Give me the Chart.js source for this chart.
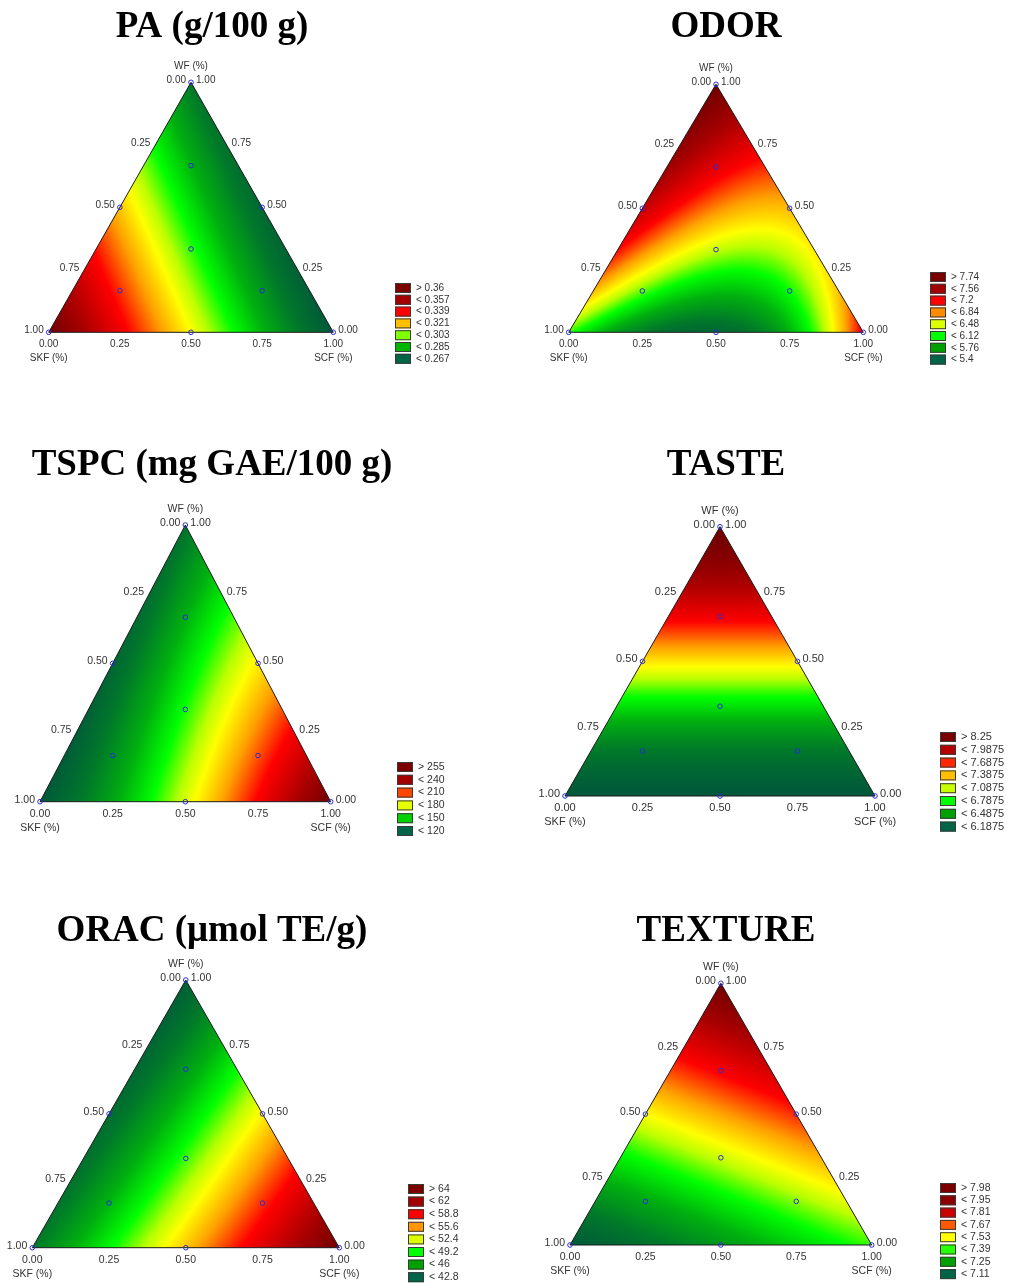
<!DOCTYPE html>
<html>
<head>
<meta charset="utf-8">
<script src="https://cdn.jsdelivr.net/npm/chart.js@4.4.1/dist/chart.umd.min.js"></script>
<style>
  body { margin: 0; background: #fff; }
  #page { position: relative; width: 1017px; height: 1283px; overflow: hidden; }
  #page canvas { position: absolute; }
</style>
</head>
<body>
<div id="page"></div>
<script>
// Mixture components: WF at the top, SKF bottom-left, SCF bottom-right
const axisNames = ["WF (%)", "SKF (%)", "SCF (%)"];
const tickValues = [0, 0.25, 0.5, 0.75, 1];
const tickLabels = ["0.00", "0.25", "0.50", "0.75", "1.00"];

// Design points (blue circles): vertices, edge midpoints, centroid, axial points
const designWF  = [1, 0, 0, 0.5, 0.5, 0,   1/3, 2/3, 1/6, 1/6];
const designSKF = [0, 1, 0, 0.5, 0,   0.5, 1/3, 1/6, 2/3, 1/6];
const designSCF = [0, 0, 1, 0,   0.5, 0.5, 1/3, 1/6, 1/6, 2/3];

// Response on a {3,3} lattice (counts in thirds: WF, SKF, SCF)
const nodeWF  = [3, 0, 0, 2, 1, 2, 1, 0, 0, 1];
const nodeSKF = [0, 3, 0, 1, 2, 0, 0, 2, 1, 1];
const nodeSCF = [0, 0, 3, 0, 0, 1, 2, 1, 2, 1];

const paValues      = [0.264, 0.375, 0.249, 0.301, 0.338, 0.259, 0.254, 0.333, 0.291, 0.296];
const odorValues    = [7.92, 6.13, 7.20, 7.63, 7.11, 7.03, 6.54, 5.27, 5.47, 6.34];
const tspcValues    = [112, 95, 265, 107, 100, 160, 207, 146, 204, 156];
const tasteValues   = [8.35, 5.95, 5.95, 7.73, 6.69, 7.73, 6.69, 5.95, 5.95, 6.69];
const oracValues    = [40.1, 42.7, 65.2, 41.0, 41.8, 48.5, 56.8, 50.2, 57.7, 49.3];
const textureValues = [8.00, 6.97, 7.36, 7.66, 7.31, 7.79, 7.57, 7.10, 7.23, 7.44];

// Colour range (low -> high) of each response
const paRange      = [0.249, 0.375];
const odorRange    = [5.04, 7.92];
const tspcRange    = [95, 265];
const tasteRange   = [5.95, 8.35];
const oracRange    = [39.6, 65.2];
const textureRange = [6.97, 8.00];

// Legend labels, top to bottom
const paLegend      = ["> 0.36", "< 0.357", "< 0.339", "< 0.321", "< 0.303", "< 0.285", "< 0.267"];
const odorLegend    = ["> 7.74", "< 7.56", "< 7.2", "< 6.84", "< 6.48", "< 6.12", "< 5.76", "< 5.4"];
const tspcLegend    = ["> 255", "< 240", "< 210", "< 180", "< 150", "< 120"];
const tasteLegend   = ["> 8.25", "< 7.9875", "< 7.6875", "< 7.3875", "< 7.0875", "< 6.7875", "< 6.4875", "< 6.1875"];
const oracLegend    = ["> 64", "< 62", "< 58.8", "< 55.6", "< 52.4", "< 49.2", "< 46", "< 42.8"];
const textureLegend = ["> 7.98", "< 7.95", "< 7.81", "< 7.67", "< 7.53", "< 7.39", "< 7.25", "< 7.11"];

// Styles
const colorStops = [
  [0.00, [0, 88, 58]],
  [0.12, [0, 120, 42]],
  [0.24, [0, 175, 15]],
  [0.35, [0, 255, 0]],
  [0.44, [185, 255, 0]],
  [0.50, [255, 255, 0]],
  [0.60, [255, 160, 0]],
  [0.72, [255, 0, 0]],
  [0.87, [170, 0, 0]],
  [1.00, [112, 0, 0]]
];
const swatches = {
  pa:      ["#7B0000", "#A50000", "#FF0000", "#FFBE00", "#80FF00", "#00B400", "#006446"],
  odor:    ["#7B0000", "#A50000", "#FF0000", "#FF8C00", "#DCFF00", "#00FF00", "#00A000", "#006446"],
  tspc:    ["#7B0000", "#A50000", "#FF4600", "#E6FF00", "#00D200", "#006446"],
  taste:   ["#7B0000", "#B40000", "#FF2800", "#FFBE00", "#C8FF00", "#00FF00", "#00A000", "#006446"],
  orac:    ["#7B0000", "#A50000", "#FF0000", "#FF9600", "#DCFF00", "#00FF00", "#00A000", "#006446"],
  texture: ["#7B0000", "#8C0000", "#C80000", "#FF5A00", "#FFFF00", "#28FF00", "#00A000", "#006446"]
};

// Panel layout, page coordinates. tri = [left, right, top, bottom] of the triangle
const panels = [
  { title: "PA (g/100 g)", values: paValues, range: paRange, legend: paLegend, colors: swatches.pa,
    cell: [0, 0, 508, 425], titleXY: [212, 37], tri: [48.7, 333.3, 82.3, 332.3],
    legendXY: [395, 288], legendStep: 11.8, font: 10 },
  { title: "ODOR", values: odorValues, range: odorRange, legend: odorLegend, colors: swatches.odor,
    cell: [508, 0, 509, 425], titleXY: [726, 37], tri: [568.7, 863.3, 84.3, 332.3],
    legendXY: [930, 277], legendStep: 11.8, font: 10 },
  { title: "TSPC (mg GAE/100 g)", values: tspcValues, range: tspcRange, legend: tspcLegend, colors: swatches.tspc,
    cell: [0, 425, 508, 465], titleXY: [212, 475], tri: [40, 330.7, 525, 801.7],
    legendXY: [397, 767], legendStep: 12.8, font: 10.5 },
  { title: "TASTE", values: tasteValues, range: tasteRange, legend: tasteLegend, colors: swatches.taste,
    cell: [508, 425, 509, 465], titleXY: [726, 475], tri: [565, 875, 526.7, 796],
    legendXY: [940, 737], legendStep: 12.8, font: 11 },
  { title: "ORAC (\u03bcmol TE/g)", values: oracValues, range: oracRange, legend: oracLegend, colors: swatches.orac,
    cell: [0, 890, 508, 393], titleXY: [212, 941], tri: [32.3, 339.3, 980, 1247.7],
    legendXY: [408, 1189], legendStep: 12.6, font: 10.5 },
  { title: "TEXTURE", values: textureValues, range: textureRange, legend: textureLegend, colors: swatches.texture,
    cell: [508, 890, 509, 393], titleXY: [726, 941], tri: [570, 871.7, 983.3, 1245],
    legendXY: [940, 1188], legendStep: 12.3, font: 10.5 }
];

function colorAt(t) {
  t = Math.max(0, Math.min(1, t));
  for (let i = 1; i < colorStops.length; i++) {
    const [t1, c1] = colorStops[i];
    const [t0, c0] = colorStops[i - 1];
    if (t <= t1) {
      const f = (t - t0) / (t1 - t0);
      return [0, 1, 2].map(j => Math.round(c0[j] + (c1[j] - c0[j]) * f));
    }
  }
  return colorStops[colorStops.length - 1][1];
}

// cubic Lagrange basis on the simplex lattice
function basis(n, L) {
  let p = 1;
  for (let m = 0; m < n; m++) p *= (3 * L - m) / (m + 1);
  return p;
}

function response(values, w, k, c) {
  let s = 0;
  for (let i = 0; i < values.length; i++) {
    s += values[i] * basis(nodeWF[i], w) * basis(nodeSKF[i], k) * basis(nodeSCF[i], c);
  }
  return s;
}

function trianglePath(ctx, x, y) {
  ctx.beginPath();
  ctx.moveTo(x.getPixelForValue(0), y.getPixelForValue(0));
  ctx.lineTo(x.getPixelForValue(1), y.getPixelForValue(0));
  ctx.lineTo(x.getPixelForValue(0.5), y.getPixelForValue(1));
  ctx.closePath();
}

const ternaryPlugin = {
  id: "ternary",
  beforeDatasetsDraw(chart) {
    const p = chart.options.plugins.ternary.panel;
    const { ctx, chartArea, scales: { x, y } } = chart;
    const x0 = Math.floor(chartArea.left), y0 = Math.floor(chartArea.top);
    const W = Math.ceil(chartArea.right) - x0 + 1, H = Math.ceil(chartArea.bottom) - y0 + 1;
    const off = document.createElement("canvas");
    off.width = W; off.height = H;
    const octx = off.getContext("2d");
    const img = octx.createImageData(W, H);
    const [lo, hi] = p.range;
    for (let py = 0; py < H; py++) {
      const wf = y.getValueForPixel(y0 + py + 0.5);
      for (let px = 0; px < W; px++) {
        const xv = x.getValueForPixel(x0 + px + 0.5);
        const scf = xv - wf / 2;
        const skf = 1 - wf - scf;
        if (wf < -0.004 || scf < -0.004 || skf < -0.004) continue;
        const v = response(p.values, wf, skf, scf);
        const col = colorAt((v - lo) / (hi - lo));
        const idx = (py * W + px) * 4;
        img.data[idx] = col[0]; img.data[idx + 1] = col[1]; img.data[idx + 2] = col[2]; img.data[idx + 3] = 255;
      }
    }
    octx.putImageData(img, 0, 0);
    ctx.save();
    trianglePath(ctx, x, y);
    ctx.clip();
    ctx.drawImage(off, x0, y0);
    ctx.restore();

    ctx.save();
    ctx.strokeStyle = "#1a1a1a";
    ctx.lineWidth = 1;
    trianglePath(ctx, x, y);
    ctx.stroke();
    ctx.restore();
  },
  afterDatasetsDraw(chart) {
    const p = chart.options.plugins.ternary.panel;
    const { ctx, scales: { x, y } } = chart;
    const ox = p.cell[0], oy = p.cell[1];
    ctx.save();
    ctx.fillStyle = "#333";
    ctx.font = p.font + "px 'Liberation Sans', Arial, sans-serif";
    ctx.textBaseline = "middle";
    tickValues.forEach((v, i) => {
      // left edge: SKF
      ctx.textAlign = "right";
      ctx.fillText(tickLabels[i], x.getPixelForValue((1 - v) / 2) - 5, y.getPixelForValue(1 - v) - 2);
      // right edge: WF
      ctx.textAlign = "left";
      ctx.fillText(tickLabels[i], x.getPixelForValue(1 - v / 2) + 5, y.getPixelForValue(v) - 2);
      // bottom: SCF
      ctx.textAlign = "center";
      ctx.fillText(tickLabels[i], x.getPixelForValue(v), y.getPixelForValue(0) + 12);
    });
    ctx.textAlign = "center";
    ctx.fillText(axisNames[0], x.getPixelForValue(0.5), y.getPixelForValue(1) - 16);
    ctx.fillText(axisNames[1], x.getPixelForValue(0), y.getPixelForValue(0) + 26);
    ctx.fillText(axisNames[2], x.getPixelForValue(1), y.getPixelForValue(0) + 26);

    // legend
    p.legend.forEach((label, i) => {
      const lx = p.legendXY[0] - ox, ly = p.legendXY[1] - oy + i * p.legendStep;
      ctx.fillStyle = p.colors[i];
      ctx.fillRect(lx, ly - 5, 16, 10);
      ctx.strokeStyle = "#3a3a3a";
      ctx.strokeRect(lx + 0.5, ly - 4.5, 15, 9);
      ctx.fillStyle = "#333";
      ctx.textAlign = "left";
      ctx.fillText(label, lx + 21, ly);
    });

    // title
    ctx.fillStyle = "#000";
    ctx.font = "bold 37px 'Liberation Serif', 'Times New Roman', serif";
    ctx.textAlign = "center";
    ctx.textBaseline = "alphabetic";
    ctx.fillText(p.title, p.titleXY[0] - ox, p.titleXY[1] - oy);
    ctx.restore();
  }
};

const page = document.getElementById("page");
panels.forEach(p => {
  const [cx, cy, cw, ch] = p.cell;
  const canvas = document.createElement("canvas");
  canvas.width = cw; canvas.height = ch;
  canvas.style.left = cx + "px"; canvas.style.top = cy + "px";
  canvas.style.width = cw + "px"; canvas.style.height = ch + "px";
  page.appendChild(canvas);

  const points = designWF.map((w, i) => ({ x: designSCF[i] + w / 2, y: w }));
  const [tl, tr, tt, tb] = p.tri;
  new Chart(canvas, {
    type: "scatter",
    data: {
      datasets: [{
        data: points,
        clip: false,
        pointRadius: 2.3,
        pointHoverRadius: 2.3,
        pointBorderWidth: 1,
        pointBorderColor: "#2b2bd9",
        pointBackgroundColor: "rgba(0,0,0,0)"
      }]
    },
    options: {
      responsive: false,
      animation: false,
      events: [],
      layout: { padding: { left: tl - cx, right: cx + cw - tr, top: tt - cy, bottom: cy + ch - tb } },
      scales: {
        x: { type: "linear", min: 0, max: 1, display: false },
        y: { type: "linear", min: 0, max: 1, display: false }
      },
      plugins: {
        legend: { display: false },
        tooltip: { enabled: false },
        ternary: { panel: p }
      }
    },
    plugins: [ternaryPlugin]
  });
});
</script>
</body>
</html>
